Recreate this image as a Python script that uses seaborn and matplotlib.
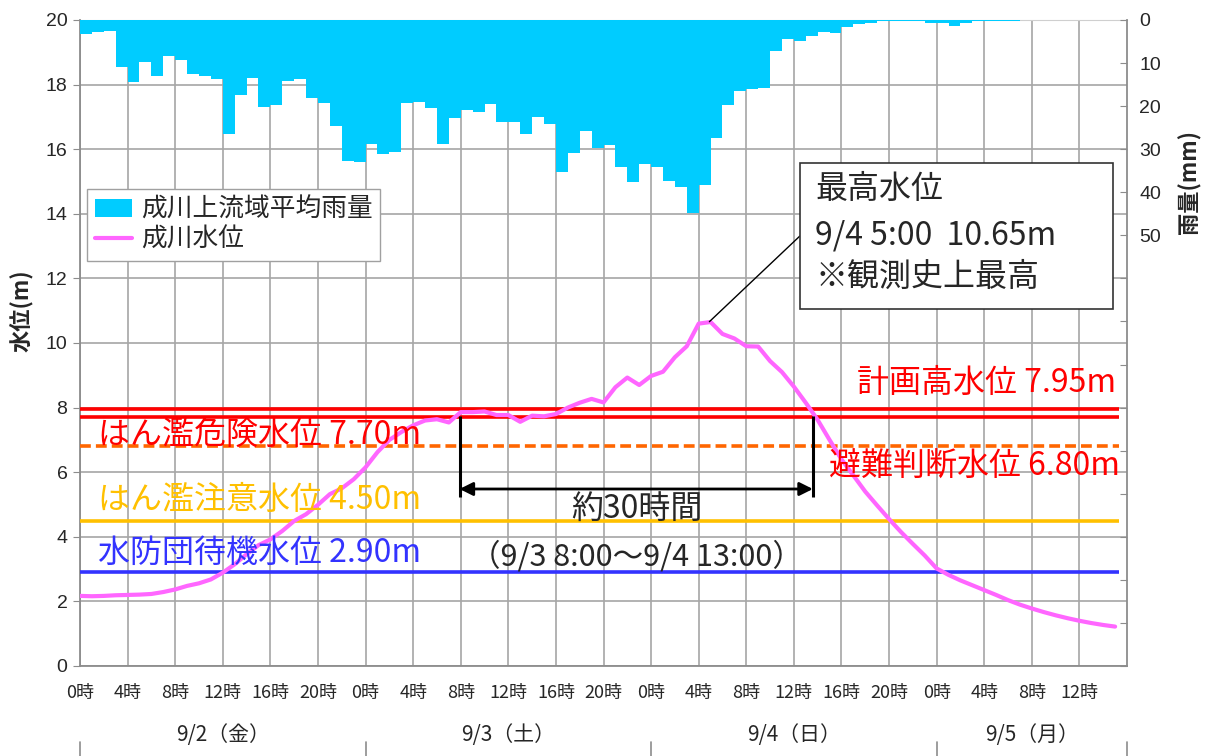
import numpy as np
import pandas as pd
import matplotlib.pyplot as plt
import matplotlib.transforms as mtransforms
from matplotlib.patches import Patch, Rectangle
from matplotlib.lines import Line2D
import seaborn as sns

# 9/2 0時 から 1時間ごと (88時間分)
hours = np.arange(88)

# 成川上流域平均雨量 (mm)
rain_mm = [3.3, 2.9, 2.6, 10.8, 14.5, 9.8, 13.0, 8.3, 9.3, 12.5,
           13.1, 13.7, 26.4, 17.5, 13.5, 20.2, 19.8, 14.2, 13.6, 18.1,
           19.3, 24.7, 32.7, 33.0, 28.8, 31.0, 30.7, 19.2, 19.0, 20.5,
           28.9, 22.8, 20.9, 21.4, 19.6, 23.8, 23.8, 26.5, 22.6, 24.2,
           35.4, 30.8, 25.8, 29.7, 29.0, 34.1, 37.5, 33.4, 34.2, 37.4,
           38.8, 44.9, 38.2, 27.4, 19.8, 16.4, 16.1, 15.9, 7.2, 4.5,
           4.9, 3.6, 2.9, 3.1, 1.6, 0.9, 0.6, 0.3, 0.2, 0.2,
           0.2, 0.7, 0.7, 1.3, 0.7, 0.3, 0.2, 0.2, 0.2, 0.1,
           0, 0, 0, 0, 0, 0.1, 0.1, 0.1]

# 成川水位 (m)
level_m = [2.17, 2.16, 2.17, 2.19, 2.20, 2.21, 2.23, 2.29, 2.37, 2.48,
           2.56, 2.68, 2.89, 3.15, 3.46, 3.74, 3.92, 4.18, 4.49, 4.70,
           4.99, 5.32, 5.50, 5.78, 6.15, 6.62, 7.00, 7.24, 7.45, 7.60,
           7.64, 7.54, 7.86, 7.86, 7.88, 7.77, 7.77, 7.56, 7.75, 7.73,
           7.80, 8.00, 8.15, 8.27, 8.16, 8.63, 8.93, 8.70, 8.98, 9.11,
           9.56, 9.90, 10.60, 10.65, 10.28, 10.14, 9.90, 9.89, 9.44, 9.10,
           8.65, 8.15, 7.62, 7.00, 6.40, 5.90, 5.40, 4.97, 4.55, 4.15,
           3.78, 3.42, 3.02, 2.82, 2.65, 2.50, 2.35, 2.20, 2.04, 1.90,
           1.78, 1.67, 1.57, 1.48, 1.40, 1.33, 1.27, 1.22]

# 基準水位
ref_names = ['計画高水位', 'はん濫危険水位', '避難判断水位', 'はん濫注意水位', '水防団待機水位']
ref_levels = [7.95, 7.70, 6.80, 4.50, 2.90]
ref_colors = ['#FF0000', '#FF0000', '#FF6600', '#FFC000', '#3333FF']
ref_text_colors = ['#FF0000', '#FF0000', '#FF0000', '#FFC000', '#3333FF']

days = ['9/2（金）', '9/3（土）', '9/4（日）', '9/5（月）']

df = pd.DataFrame({'hour': hours, 'rain': rain_mm, 'level': level_m})
df['mid'] = df['hour'] + 0.5

sns.set_style('white')
plt.rcParams['font.family'] = ['Noto Sans CJK JP', 'DejaVu Sans']

fig = plt.figure(figsize=(12.12, 7.56), dpi=100)
ax = fig.add_axes([80 / 1212, 90 / 756, 1047 / 1212, 646 / 756])
ax2 = ax.twinx()

grid_c = '#A6A6A6'
spine_c = '#8C8C8C'

# 水位
sns.lineplot(data=df, x='hour', y='level', color='#FF66FF', lw=3, ax=ax, zorder=4)

# 基準水位の線
for lev, c in zip(ref_levels, ref_colors):
    ls = (0, (3, 1.4)) if c == '#FF6600' else '-'
    ax.hlines(lev, 0, 87.3, colors=c, lw=2.6, linestyles=ls, zorder=3)

ax.set_xlim(0, 88)
ax.set_ylim(0, 20)
ax.set_xticks(range(0, 88, 4))
ax.set_xticklabels([f'{h % 24}時' for h in range(0, 88, 4)], fontsize=13)
ax.set_yticks(range(0, 21, 2))
ax.set_yticklabels([str(v) for v in range(0, 21, 2)], fontsize=14, fontfamily='Liberation Sans')
ax.grid(True, color=grid_c, lw=1.2)
ax.set_axisbelow(True)
ax.set_xlabel('')
ax.set_ylabel('')
ax.tick_params(axis='x', direction='out', length=5, color=spine_c, pad=8)
ax.tick_params(axis='y', direction='out', length=5, color=spine_c, pad=4)
for s in ['left', 'bottom']:
    ax.spines[s].set_color(spine_c)
    ax.spines[s].set_linewidth(1.3)
ax.spines['top'].set_color('#CFCFCF')
ax.spines['right'].set_visible(False)

# 雨量 (右軸、上から下向き)
sns.histplot(data=df, x='mid', weights='rain', bins=88, binrange=(0, 88), color='#00CCFF',
             alpha=1, linewidth=0, ax=ax2)
ax2.set_ylim(150, 0)
ax2.set_xlim(0, 88)
ax2.set_yticks(range(0, 151, 10))
ax2.set_yticklabels([str(v) if v <= 50 else '' for v in range(0, 151, 10)],
                    fontsize=14, fontfamily='Liberation Sans')
ax2.set_ylabel('')
ax2.set_xlabel('')
ax2.tick_params(axis='y', direction='in', length=5, color=spine_c, pad=9)
for s in ['left', 'bottom', 'top']:
    ax2.spines[s].set_visible(False)
ax2.spines['right'].set_color(spine_c)
ax2.spines['right'].set_linewidth(1.3)

# 凡例
handles = [Patch(facecolor='#00CCFF', edgecolor='none'),
           Line2D([0], [0], color='#FF66FF', lw=3)]
leg = ax2.legend(handles, ['成川上流域平均雨量', '成川水位'], loc='upper left',
                 bbox_to_anchor=(0.0067, 0.738), fontsize=18.5, frameon=True,
                 fancybox=False, edgecolor='#A0A0A0', framealpha=1,
                 handlelength=1.45, handletextpad=0.35, borderpad=0.3,
                 labelspacing=0.15, borderaxespad=0)
leg.get_frame().set_linewidth(1.0)

# 基準水位のラベル
fs = 23
ax.text(87.1, 8.76, '計画高水位 7.95m', color=ref_text_colors[0], fontsize=fs,
        ha='right', va='center', zorder=6)
ax.text(1.5, 7.15, 'はん濫危険水位 7.70m', color=ref_text_colors[1], fontsize=fs,
        ha='left', va='center', zorder=6)
ax.text(87.4, 6.17, '避難判断水位 6.80m', color=ref_text_colors[2], fontsize=fs,
        ha='right', va='center', zorder=6)
ax.text(1.5, 5.14, 'はん濫注意水位 4.50m', color=ref_text_colors[3], fontsize=fs,
        ha='left', va='center', zorder=6)
ax.text(1.5, 3.49, '水防団待機水位 2.90m', color=ref_text_colors[4], fontsize=fs,
        ha='left', va='center', zorder=6)

# 約30時間
ax.vlines([31.9, 61.6], 5.24, 7.74, colors='k', lw=2.2, zorder=6)
ax.annotate('', xy=(61.6, 5.48), xytext=(31.9, 5.48),
            arrowprops=dict(arrowstyle='<|-|>', color='k', lw=2, mutation_scale=20,
                            shrinkA=0, shrinkB=0), zorder=6)
ax.text(46.8, 4.83, '約30時間', fontsize=fs, ha='center', va='center', zorder=6)
ax.text(46.8, 3.38, '（9/3 8:00～9/4 13:00）', fontsize=22, ha='center', va='center', zorder=6)

# 最高水位の吹き出し
ax.add_patch(Rectangle((60.5, 11.04), 26.3, 4.54, facecolor='white', edgecolor='#333333',
                       lw=1.2, zorder=7))
ax.plot([52.9, 60.5], [10.66, 13.31], color='k', lw=1, zorder=6)
ax.text(61.8, 14.77, '最高水位', fontsize=fs, ha='left', va='center', zorder=8)
ax.text(61.8, 13.34, '9/4 5:00  10.65m', fontsize=fs, ha='left', va='center', zorder=8)
ax.text(61.8, 12.04, '※観測史上最高', fontsize=fs, ha='left', va='center', zorder=8)

# 日付
trans = mtransforms.blended_transform_factory(ax.transData, ax.transAxes)
for i, d in enumerate(days):
    xc = 24 * i + 12 if i < 3 else 80
    ax.text(xc, -0.107, d, fontsize=15, ha='center', va='center', transform=trans)
for xb in [0, 24, 48, 72, 88]:
    ax.plot([xb, xb], [-0.118, -0.14], color=spine_c, lw=1.2, transform=trans, clip_on=False)

# 軸ラベル
fig.text(22 / 1212, 1 - 311 / 756, '水位(m)', rotation=90, fontsize=16, fontweight='bold',
         ha='center', va='center')
fig.text(1190 / 1212, 1 - 182 / 756, '雨量(mm)', rotation=90, fontsize=16, fontweight='bold',
         ha='center', va='center')

fig.savefig('out.png', dpi=100)
